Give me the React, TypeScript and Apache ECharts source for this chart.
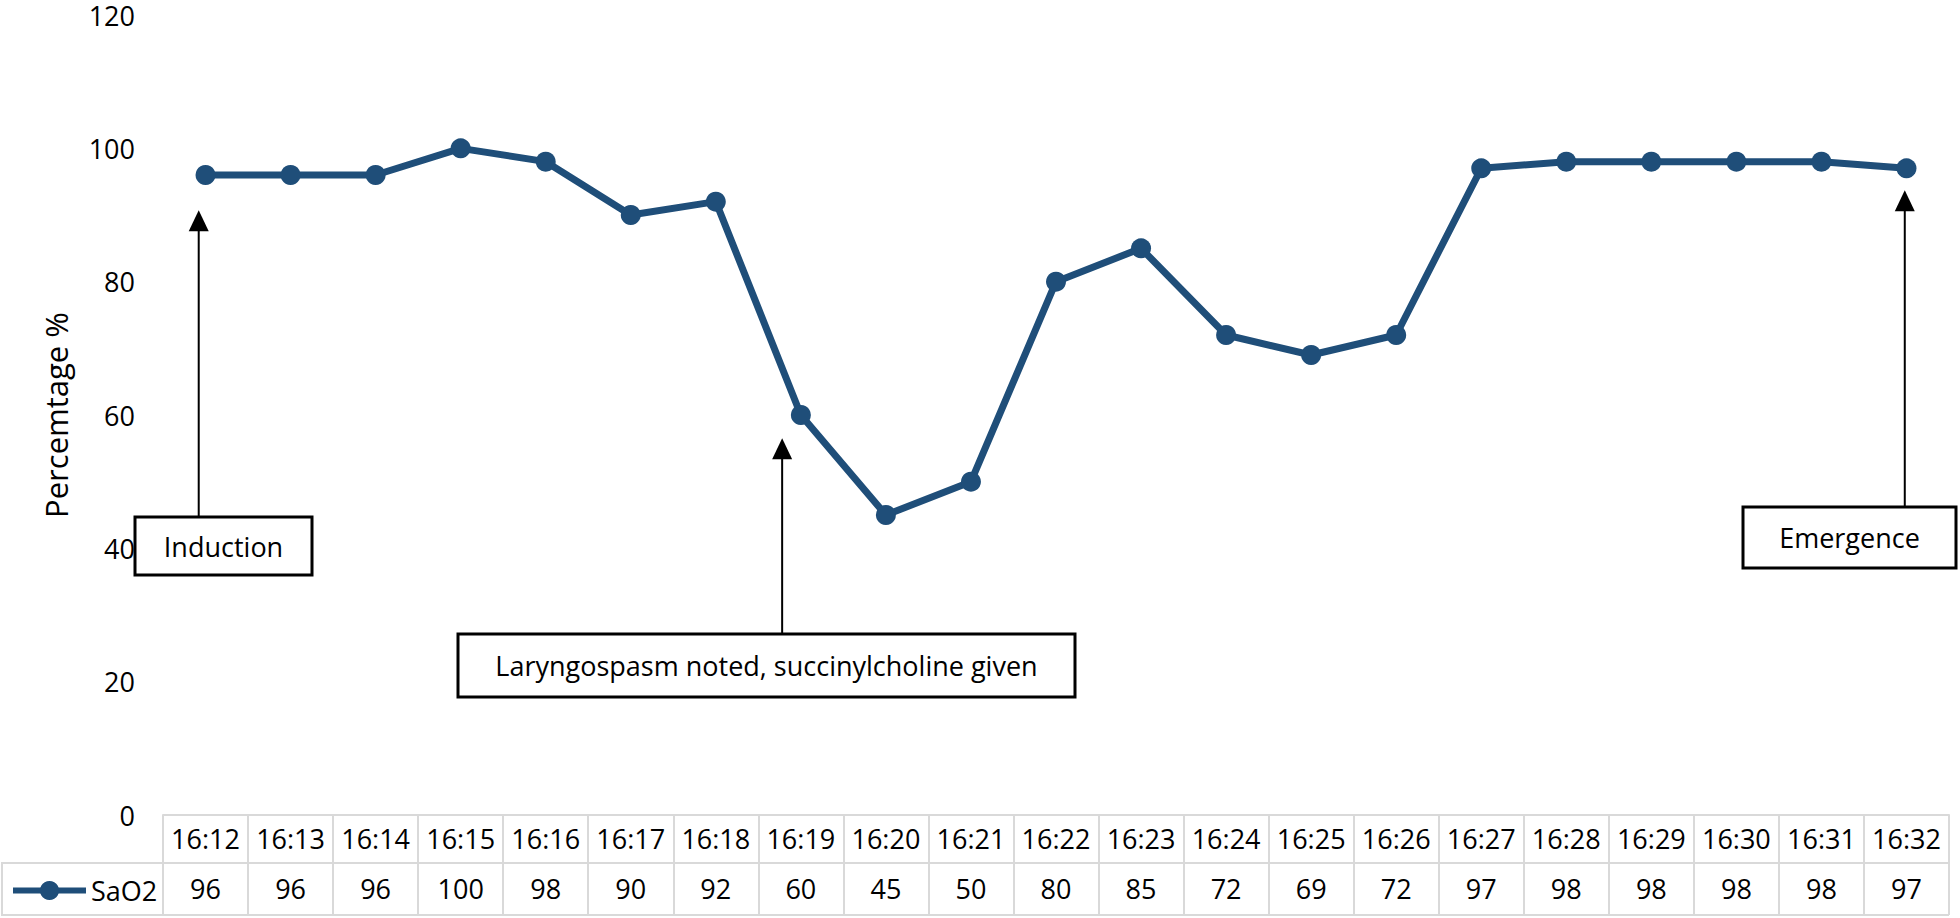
import React, { useEffect, useRef } from "react";
import * as echarts from "echarts";

const times = [
  "16:12", "16:13", "16:14", "16:15", "16:16", "16:17", "16:18", "16:19", "16:20", "16:21", "16:22",
  "16:23", "16:24", "16:25", "16:26", "16:27", "16:28", "16:29", "16:30", "16:31", "16:32",
];
const sao2 = [96, 96, 96, 100, 98, 90, 92, 60, 45, 50, 80, 85, 72, 69, 72, 97, 98, 98, 98, 98, 97];
const seriesName = "SaO2";
const yAxisTitle = "Percemtage %";
const yMin = 0;
const yMax = 120;
const yInterval = 20;

const annotationLabels = ["Induction", "Laryngospasm noted, succinylcholine given", "Emergence"];
const annotationAt = [-0.08, 6.78, 19.98];
const annotationTip = [90.7, 56.5, 93.7];
const annotationBoxes = [
  [135, 517, 177, 58],
  [458, 634, 617, 63],
  [1743, 507, 213, 61],
];

const FONT = "'Open Sans', 'Noto Sans', sans-serif";
const FS = 27;
const LINE = "#1F4E79";
const GRID_COLOR = "#d9d9d9";
const G_LEFT = 163;
const G_TOP = 15;
const G_W = 1786;
const G_H = 800;
const ROW1 = 48;
const ROW2 = 52;

export default function App() {
  const ref = useRef<HTMLDivElement>(null);
  useEffect(() => {
    if (!ref.current) return;
    const chart = echarts.init(ref.current, null, { renderer: "svg" });
    chart.setOption({
      animation: false,
      backgroundColor: "#ffffff",
      textStyle: { fontFamily: FONT },
      grid: { left: G_LEFT, top: G_TOP, width: G_W, height: G_H, containLabel: false },
      legend: {
        show: true,
        left: 10,
        top: G_TOP + G_H + ROW1 + ROW2 / 2 - 12,
        padding: 0,
        itemWidth: 73,
        itemHeight: 24,
        lineStyle: { width: 6, color: LINE },
        itemStyle: { color: LINE },
        textStyle: { fontSize: FS, fontFamily: FONT, color: "#000" },
        data: [seriesName],
      },
      xAxis: [
        {
          type: "category",
          data: times,
          position: "bottom",
          boundaryGap: true,
          axisLine: { show: true, lineStyle: { color: GRID_COLOR, width: 2 } },
          axisTick: { show: true, length: ROW1 + ROW2, lineStyle: { color: GRID_COLOR, width: 2 } },
          axisLabel: { fontSize: FS, fontFamily: FONT, color: "#000", margin: 10, interval: 0 },
          splitLine: { show: false },
        },
        {
          type: "category",
          data: times,
          position: "bottom",
          offset: ROW1,
          boundaryGap: true,
          axisLine: { show: true, lineStyle: { color: GRID_COLOR, width: 2 } },
          axisTick: { show: false },
          axisLabel: {
            fontSize: FS,
            fontFamily: FONT,
            color: "#000",
            margin: 12,
            interval: 0,
            formatter: (_v: string, i: number) => String(sao2[i]),
          },
          splitLine: { show: false },
        },
      ],
      yAxis: {
        type: "value",
        min: yMin,
        max: yMax,
        interval: yInterval,
        name: yAxisTitle,
        nameLocation: "middle",
        nameRotate: 90,
        nameGap: 92,
        nameTextStyle: { fontSize: 31, fontFamily: FONT, color: "#000" },
        axisLine: { show: false },
        axisTick: { show: false },
        splitLine: { show: false },
        axisLabel: { fontSize: FS, lineHeight: 22, fontFamily: FONT, color: "#000", margin: 28 },
      },
      series: [
        {
          name: seriesName,
          type: "line",
          xAxisIndex: 0,
          data: sao2,
          symbol: "circle",
          symbolSize: 20,
          lineStyle: { color: LINE, width: 7 },
          itemStyle: { color: LINE },
          z: 3,
        },
      ],
    });

    const p0 = chart.convertToPixel({ xAxisIndex: 0, yAxisIndex: 0 }, [0, 0]) as number[];
    const p1 = chart.convertToPixel({ xAxisIndex: 0, yAxisIndex: 0 }, [1, 0]) as number[];
    const step = p1[0] - p0[0];
    const graphics: any[] = [];
    const tableTop = G_TOP + G_H;
    const r1 = tableTop + ROW1;
    const r2 = r1 + ROW2;
    graphics.push({
      type: "rect",
      shape: { x: 2, y: r1, width: G_LEFT - 2, height: ROW2 },
      style: { fill: "none", stroke: GRID_COLOR, lineWidth: 2 },
      z: 1,
    });
    graphics.push({
      type: "line",
      shape: { x1: 2, y1: r2, x2: G_LEFT + G_W, y2: r2 },
      style: { stroke: GRID_COLOR, lineWidth: 2 },
      z: 1,
    });
    annotationLabels.forEach((label, i) => {
      const x = p0[0] + annotationAt[i] * step;
      const tipY = chart.convertToPixel({ yAxisIndex: 0 }, annotationTip[i]) as number;
      const [bx, by, bw, bh] = annotationBoxes[i];
      graphics.push({
        type: "line",
        shape: { x1: x, y1: by, x2: x, y2: tipY + 18 },
        style: { stroke: "#000", lineWidth: 2 },
        z: 10,
      });
      graphics.push({
        type: "polygon",
        shape: { points: [[x, tipY], [x - 10, tipY + 21], [x + 10, tipY + 21]] },
        style: { fill: "#000" },
        z: 10,
      });
      graphics.push({
        type: "rect",
        shape: { x: bx, y: by, width: bw, height: bh },
        style: { fill: "#fff", stroke: "#000", lineWidth: 3 },
        z: 11,
      });
      graphics.push({
        type: "text",
        x: bx + bw / 2,
        y: by + bh / 2,
        style: {
          text: label,
          fontSize: FS,
          fontFamily: FONT,
          fill: "#000",
          align: "center",
          verticalAlign: "middle",
          textAlign: "center",
          textVerticalAlign: "middle",
        },
        z: 12,
      });
    });
    chart.setOption({ graphic: graphics });
    return () => chart.dispose();
  }, []);
  return (
    <div
      ref={ref}
      style={{ position: "fixed", left: 0, top: 0, width: 1960, height: 918, background: "#fff" }}
    />
  );
}
